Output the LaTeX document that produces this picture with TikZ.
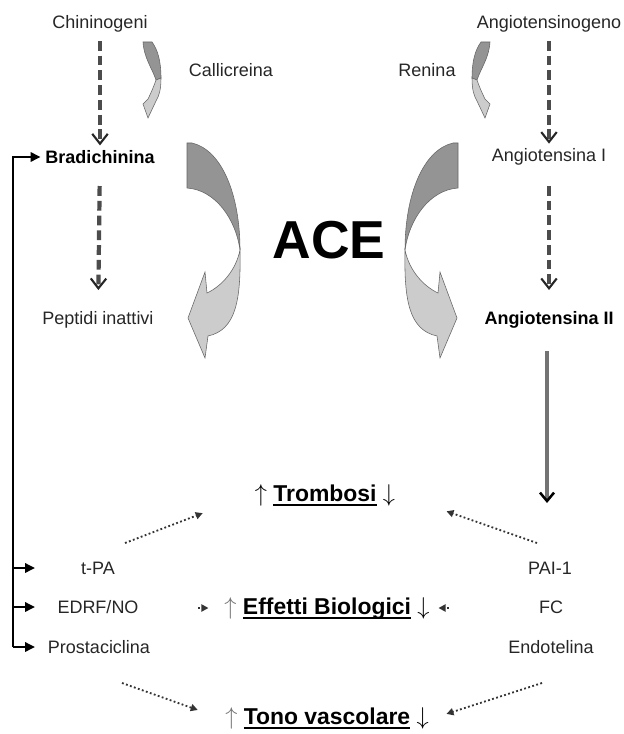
\documentclass[tikz,border=0pt]{standalone}
\usepackage{fontspec}
\setmainfont{Liberation Sans}
\usepackage{amsmath}
\usetikzlibrary{arrows.meta}

\newcommand{\uln}[1]{\setbox0=\hbox{#1}\rlap{\rule[-3.3pt]{\wd0}{1.4pt}}\box0\relax}

\begin{document}
\begin{tikzpicture}[x=0.025cm, y=-0.025cm,
    txt/.style={font=\fontsize{12.8}{15}\selectfont, text=black!85},
    txtb/.style={font=\fontsize{12.8}{15}\selectfont\bfseries},
    effect/.style={font=\fontsize{16.3}{19}\selectfont\bfseries},
    dasharrow/.style={draw=black!70, line width=3pt, dash pattern=on 7pt off 3.5pt,
        -{Straight Barb[length=7pt, width=11pt, line width=1.5pt, color=black!85]}},
    dotarrow/.style={draw=black!80, line width=1.3pt, dash pattern=on 1.3pt off 1.7pt,
        -{Triangle[length=5pt, width=5pt]}},
    bracket/.style={line width=1.8pt, -{Triangle[length=7pt, width=6.5pt]}},
    darkpart/.style={fill=black!42, draw=black!60, line width=0.4pt},
    lightpart/.style={fill=black!20, draw=black!60, line width=0.4pt}]
    \useasboundingbox (0,0) rectangle (623,734);

    \node[txt] (chin) at (100,24) {Chininogeni};
    \node[txt] (calli) at (231,70) {Callicreina};
    \node[txtb] (brad) at (100,157) {Bradichinina};
    \node[txt] (pept) at (98,320) {Peptidi inattivi};
    \node[txt] (angino) at (549,24) {Angiotensinogeno};
    \node[txt] (ren) at (427,70) {Renina};
    \node[txt] (ang1) at (549,157) {Angiotensina I};
    \node[txtb] (ang2) at (549,320) {Angiotensina II};
    \node[font=\fontsize{38}{44}\selectfont\bfseries] (ace) at (329,240) {ACE};

    \draw[dasharrow, shorten <=2.5pt] (chin) -- (brad);
    \draw[dasharrow, shorten <=12.4pt, shorten >=11.8pt] (brad) -- (pept);
    \draw[dasharrow, shorten <=2.5pt] (angino) -- (ang1);
    \draw[dasharrow, shorten <=11pt, shorten >=11.8pt] (ang1) -- (ang2);

    \foreach \m/\bs/\ss in {1/0/0, -1/645/633} {
      \begin{scope}[shift={(\bs,0)}, xscale=\m]
        \draw[darkpart] (187,143) -- (192,143) .. controls (222,150) and (240,195) .. (240,250)
              .. controls (236,220) and (216,190) .. (187,188) -- cycle;
        \draw[lightpart] (240,250) .. controls (241,300) and (236,330) .. (208,336)
              -- (205,358) -- (188,318) -- (205,272) -- (207,293)
              .. controls (222,286) and (236,270) .. (240,250) -- cycle;
      \end{scope}
      \begin{scope}[shift={(\ss,0)}, xscale=\m]
        \draw[darkpart] (143,42) -- (152,42) .. controls (158,50) and (161,62) .. (161,78)
              -- (156,80) .. controls (152,68) and (144,58) .. (143,42) -- cycle;
        \draw[lightpart] (161,78) .. controls (161,90) and (159,96) .. (156,101)
              -- (148,118) -- (143,104) -- (148,99)
              .. controls (151,93) and (154,86) .. (156,80) -- cycle;
      \end{scope}
    }

    \coordinate (ang2end) at (547,503);
    \draw[draw=black!55, line width=2.6pt, shorten <=12.8pt,
          -{Straight Barb[length=6pt, width=10pt, line width=1.8pt, color=black]}]
          (ang2end |- ang2.south) -- (ang2end);

    \node[effect] (trom) at (325,495) {$\uparrow$ \uln{Trombosi} $\downarrow$};
    \node[effect] (eff) at (327,608) {\textcolor{black!55}{$\uparrow$} \uln{Effetti Biologici} $\downarrow$};
    \node[effect] (tono) at (327,718) {\textcolor{black!55}{$\uparrow$} \uln{Tono vascolare} $\downarrow$};

    \node[txt] (tpa) at (98,568) {t-PA};
    \node[txt] (edrf) at (98,607) {EDRF/NO};
    \node[txt] (prost) at (99,647) {Prostaciclina};
    \node[txt] (pai) at (550,568) {PAI-1};
    \node[txt] (fc) at (551,607) {FC};
    \node[txt] (endo) at (551,647) {Endotelina};

    \coordinate (spine) at (13,157);
    \coordinate (tip) at (35,157);
    \draw[bracket] (spine |- prost) -- (spine) -- (brad.west);
    \foreach \n in {tpa, edrf, prost}
      \draw[bracket] (spine |- \n) -- (tip |- \n);

    \coordinate (tpaup) at (125,543);
    \coordinate (paiup) at (537,543);
    \coordinate (prostdn) at (122,683);
    \coordinate (endodn) at (542,683);
    \draw[dotarrow, shorten >=36pt] (tpaup) -- (trom.west);
    \draw[dotarrow, shorten >=35pt] (paiup) -- (trom.east);
    \draw[dotarrow, shorten >=17pt] (prostdn) -- (tono.west);
    \draw[dotarrow, shorten >=9.5pt] (endodn) -- (tono.east);
    \draw[dotarrow, shorten >=7.8pt] ([xshift=-15pt]eff.west) -- (eff.west);
    \draw[dotarrow, shorten >=2.8pt] ([xshift=10pt]eff.east) -- (eff.east);
\end{tikzpicture}
\end{document}
